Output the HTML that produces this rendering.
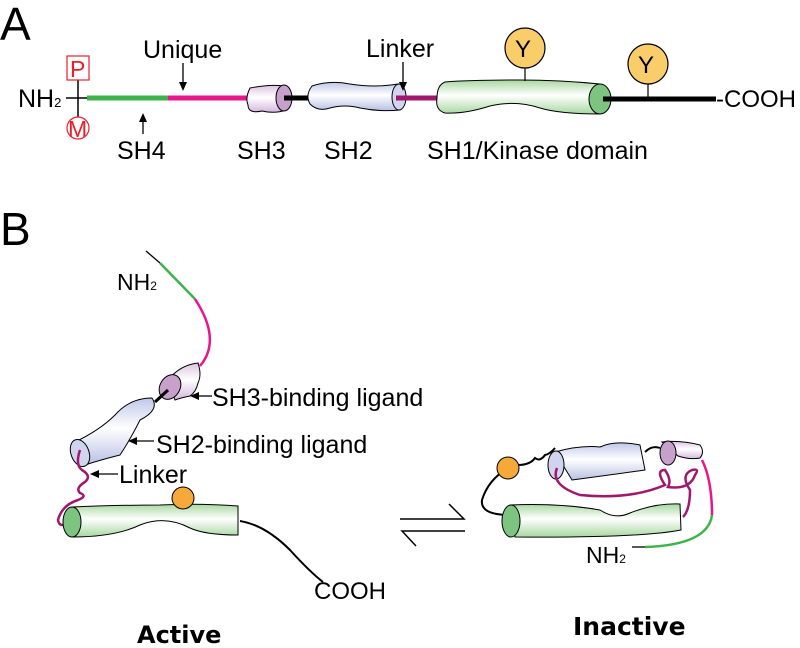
<!DOCTYPE html>
<html><head><meta charset="utf-8"><style>
html,body{margin:0;padding:0;background:#fff;}
svg{display:block;font-family:"Liberation Sans",Arial,sans-serif;}
</style></head><body>
<svg width="800" height="648" viewBox="0 0 800 648" xmlns="http://www.w3.org/2000/svg">
<defs>
<linearGradient id="gk" x1="0" y1="0" x2="0" y2="1"><stop offset="0" stop-color="#a8d8a0"/><stop offset="0.45" stop-color="#ffffff"/><stop offset="1" stop-color="#a8d8a0"/></linearGradient>
<linearGradient id="g2" x1="0" y1="0" x2="0" y2="1"><stop offset="0" stop-color="#c0c8e8"/><stop offset="0.45" stop-color="#ffffff"/><stop offset="1" stop-color="#b8c0e4"/></linearGradient>
<linearGradient id="g3" x1="0" y1="0" x2="0" y2="1"><stop offset="0" stop-color="#dcc4e0"/><stop offset="0.45" stop-color="#ffffff"/><stop offset="1" stop-color="#d4b8dc"/></linearGradient>
</defs>
<g fill="#000">
<text x="0" y="40" font-size="46">A</text>
<text x="0" y="245" font-size="46">B</text>
</g>
<!-- Panel A -->
<text x="18" y="107" font-size="25">NH<tspan font-size="13">2</tspan></text>
<line x1="66" y1="98" x2="88" y2="98" stroke="#000" stroke-width="1.5"/>
<line x1="78" y1="80" x2="78" y2="117" stroke="#000" stroke-width="1.5"/>
<rect x="67" y="56" width="22" height="24" fill="#fff" stroke="#e8202a" stroke-width="1.2"/>
<text x="70" y="77" font-size="23" fill="#e8202a">P</text>
<circle cx="78" cy="128" r="11" fill="#fff" stroke="#e8202a" stroke-width="1.2"/>
<text x="68" y="137" font-size="23" fill="#e8202a">M</text>
<line x1="87" y1="98" x2="168" y2="98" stroke="#3cb44a" stroke-width="5"/>
<line x1="168" y1="98" x2="248" y2="98" stroke="#e8168c" stroke-width="5"/>
<path d="M250,88 Q270,84 284,86 L286,110 Q275,114 262,111 Q248,114 248,105 Q245,98 250,88Z" fill="url(#g3)" stroke="#000" stroke-width="1"/>
<ellipse cx="284" cy="98" rx="8" ry="13" fill="#c8a0cc" stroke="#000" stroke-width="1"/>
<line x1="284" y1="98" x2="309" y2="98" stroke="#000" stroke-width="5"/>
<path d="M312,86 Q330,80 350,84 Q375,88 398,84 L400,110 Q380,112 360,108 Q345,104 330,108 Q318,112 310,104 Q305,95 312,86Z" fill="url(#g2)" stroke="#000" stroke-width="1"/>
<ellipse cx="399" cy="97" rx="7" ry="13" fill="#d0d4ee" stroke="#000" stroke-width="1"/>
<line x1="396" y1="98" x2="440" y2="98" stroke="#a0186e" stroke-width="5"/>
<path d="M445,82 Q470,80 520,80 Q560,80 600,84 L600,114 Q560,114 540,108 Q515,100 490,106 Q465,114 445,113 Q435,110 437,98 Q437,85 445,82Z" fill="url(#gk)" stroke="#000" stroke-width="1"/>
<ellipse cx="600" cy="99" rx="11" ry="15" fill="#7cc480" stroke="#000" stroke-width="1"/>
<line x1="603" y1="99" x2="716" y2="99" stroke="#000" stroke-width="5"/>
<text x="716" y="107" font-size="24">-COOH</text>
<line x1="525" y1="68" x2="525" y2="81" stroke="#000" stroke-width="1.2"/>
<circle cx="525" cy="48" r="20" fill="#f9cd6a" stroke="#000" stroke-width="1.2"/>
<text x="515" y="57" font-size="24">Y</text>
<line x1="648" y1="84" x2="648" y2="98" stroke="#000" stroke-width="1.2"/>
<circle cx="648" cy="64" r="20" fill="#f9cd6a" stroke="#000" stroke-width="1.2"/>
<text x="638" y="73" font-size="24">Y</text>
<g font-size="25">
<text x="143" y="58">Unique</text>
<text x="366" y="57">Linker</text>
<text x="117" y="159">SH4</text>
<text x="237" y="159">SH3</text>
<text x="324" y="159">SH2</text>
<text x="427" y="159">SH1/Kinase domain</text>
</g>
<g stroke="#000" stroke-width="1.3" fill="#000">
<line x1="183" y1="63" x2="183" y2="84"/><path d="M179,82 L183,91 L187,82Z" stroke="none"/>
<line x1="403" y1="62" x2="403" y2="84"/><path d="M399,82 L403,91 L407,82Z" stroke="none"/>
<line x1="143" y1="134" x2="143" y2="121"/><path d="M139,122 L143,113 L147,122Z" stroke="none"/>
</g>
<!-- Panel B active -->
<text x="117" y="290" font-size="23">NH<tspan font-size="12">2</tspan></text>
<line x1="146" y1="251" x2="160" y2="263" stroke="#000" stroke-width="1.3"/>
<path d="M160,263 L195,299" stroke="#3cb44a" stroke-width="2.5" fill="none"/>
<path d="M195,299 Q222,340 200,366" stroke="#e8168c" stroke-width="2.5" fill="none"/>
<path d="M168,380 Q180,365 198,363 Q202,375 198,383 Q196,392 190,396 Q180,398 175,400Z" fill="url(#g3)" stroke="#000" stroke-width="1"/>
<ellipse cx="170" cy="387" rx="10" ry="13" transform="rotate(30 170 387)" fill="#c8a0cc" stroke="#000" stroke-width="1"/>
<line x1="168" y1="390" x2="155" y2="402" stroke="#000" stroke-width="3"/>
<path d="M75,442 Q100,430 115,415 Q130,398 152,398 Q160,410 140,420 Q130,440 120,455 Q100,460 85,465Z" fill="url(#g2)" stroke="#000" stroke-width="1"/>
<ellipse cx="80" cy="453" rx="9" ry="14" transform="rotate(-20 80 453)" fill="#d0d4ee" stroke="#000" stroke-width="1"/>
<path d="M80,450 Q75,465 82,470 Q92,476 85,482 Q75,488 80,493 Q88,496 78,500 Q62,505 58,520 Q60,530 70,520" stroke="#a0186e" stroke-width="2.5" fill="none"/>
<path d="M72,507 Q120,505 160,505 Q200,503 238,506 L238,535 Q205,535 190,528 Q165,515 140,525 Q115,537 72,537Z" fill="url(#gk)" stroke="#000" stroke-width="1"/>
<ellipse cx="72" cy="522" rx="9" ry="15" fill="#7cc480" stroke="#000" stroke-width="1"/>
<circle cx="183" cy="498" r="11" fill="#f5a93a" stroke="#000" stroke-width="1"/>
<path d="M240,521 Q265,525 290,550 Q310,572 323,582" stroke="#000" stroke-width="2" fill="none"/>
<text x="314" y="599" font-size="24">COOH</text>
<g font-size="25">
<text x="212" y="406">SH3-binding ligand</text>
<text x="156" y="453">SH2-binding ligand</text>
<text x="119" y="483">Linker</text>
</g>
<g stroke="#000" stroke-width="1.3" fill="#000">
<line x1="198" y1="396" x2="212" y2="396"/><path d="M190,396 L199,392 L199,400Z" stroke="none"/>
<line x1="136" y1="441" x2="154" y2="441"/><path d="M128,441 L137,437 L137,445Z" stroke="none"/>
<line x1="98" y1="474" x2="118" y2="474"/><path d="M90,474 L99,470 L99,478Z" stroke="none"/>
</g>
<text x="137" y="643" font-size="24" font-weight="bold" font-family="'DejaVu Sans','Liberation Sans',sans-serif">Active</text>
<g stroke="#000" stroke-width="1.5" fill="none">
<path d="M400,519 L464,519 L449,504"/>
<path d="M465,531 L402,531 L416,546"/>
</g>
<!-- Inactive -->
<path d="M508,468 Q488,480 482,500 Q480,515 510,515" stroke="#000" stroke-width="2" fill="none"/>
<path d="M518,465 Q530,465 535,458 Q540,462 545,455 Q550,454 555,448" stroke="#000" stroke-width="2" fill="none"/>
<circle cx="508" cy="468" r="11" fill="#f5a93a" stroke="#000" stroke-width="1"/>
<path d="M510,505 Q560,503 600,510 Q615,520 630,513 Q655,503 680,504 L681,530 Q640,538 515,537Z" fill="url(#gk)" stroke="#000" stroke-width="1"/>
<ellipse cx="511" cy="521" rx="9" ry="16" fill="#7cc480" stroke="#000" stroke-width="1"/>
<path d="M555,452 Q580,445 600,447 Q615,440 640,445 L645,470 Q610,475 572,480Z" fill="url(#g2)" stroke="#000" stroke-width="1"/>
<ellipse cx="556" cy="465" rx="8" ry="14" fill="#d0d4ee" stroke="#000" stroke-width="1"/>
<path d="M645,452 Q652,445 660,448" stroke="#000" stroke-width="2" fill="none"/>
<path d="M662,442 Q680,440 700,445 Q705,452 700,458 Q690,460 678,456Z" fill="url(#g3)" stroke="#000" stroke-width="1"/>
<ellipse cx="668" cy="453" rx="8" ry="12" fill="#c8a0cc" stroke="#000" stroke-width="1"/>
<path d="M557,468 Q550,485 580,495 Q630,500 665,485 Q655,470 665,470 Q672,480 668,487 Q690,490 695,475 Q700,468 692,470 Q680,475 690,490 Q690,510 683,517" stroke="#a0186e" stroke-width="2.5" fill="none"/>
<path d="M702,460 Q712,480 712,515" stroke="#e8168c" stroke-width="2.5" fill="none"/>
<path d="M712,515 Q708,545 645,547" stroke="#3cb44a" stroke-width="2.5" fill="none"/>
<line x1="632" y1="547" x2="645" y2="547" stroke="#000" stroke-width="1.3"/>
<text x="586" y="563" font-size="23">NH<tspan font-size="12">2</tspan></text>
<text x="573" y="635" font-size="25" font-weight="bold" font-family="'DejaVu Sans','Liberation Sans',sans-serif">Inactive</text>
</svg>
</body></html>
